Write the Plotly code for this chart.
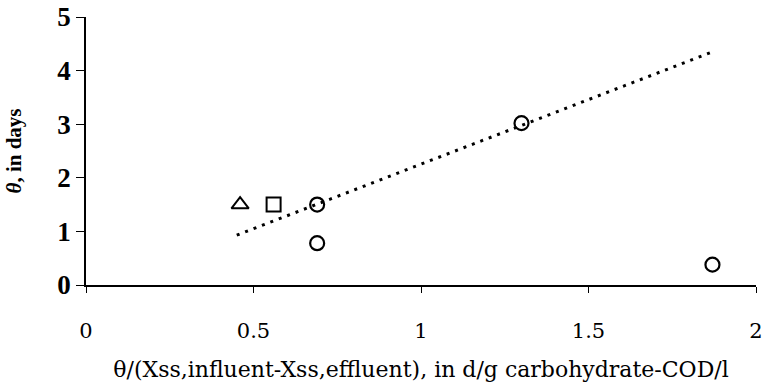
import plotly.graph_objects as go

# data
circle_x = [0.69, 0.69, 1.30, 1.87]
circle_y = [1.50, 0.78, 3.02, 0.38]
square_x = [0.56]
square_y = [1.50]
triangle_x = [0.46]
triangle_y = [1.50]
trend_x = [0.45, 1.87]
trend_y = [0.93, 4.35]

x_ticks = [0, 0.5, 1, 1.5, 2]
x_tick_labels = ["0", "0.5", "1", "1.5", "2"]
y_ticks = [0, 1, 2, 3, 4, 5]

SERIF = "DejaVu Serif"
LSERIF = "Liberation Serif"

fig = go.Figure()
fig.add_trace(go.Scatter(x=trend_x, y=trend_y, mode="lines",
                         line=dict(color="black", width=3, dash="3px,6px"),
                         showlegend=False, hoverinfo="skip"))
fig.add_trace(go.Scatter(x=circle_x, y=circle_y, mode="markers",
                         marker=dict(symbol="circle-open", size=14, color="black",
                                     line=dict(width=2.2, color="black")),
                         showlegend=False))
fig.add_trace(go.Scatter(x=square_x, y=square_y, mode="markers",
                         marker=dict(symbol="square-open", size=14, color="black",
                                     line=dict(width=2, color="black")),
                         showlegend=False))
fig.add_trace(go.Scatter(x=triangle_x, y=triangle_y, mode="markers",
                         marker=dict(symbol="triangle-up-open", size=15, color="black",
                                     line=dict(width=2, color="black")),
                         showlegend=False))

fig.update_layout(
    width=766, height=390,
    margin=dict(l=86, r=10, t=17, b=105),
    paper_bgcolor="white", plot_bgcolor="white",
    font=dict(family=SERIF, color="black", size=20),
    xaxis=dict(range=[0, 2], tickvals=x_ticks, ticktext=x_tick_labels,
               automargin=False,
               showgrid=False, zeroline=False, showline=True, linecolor="black",
               linewidth=1.5, ticks="outside", ticklen=6, tickcolor="black",
               ticklabelstandoff=20, ticklabeloverflow="allow",
               tickfont=dict(family=SERIF, size=21, color="black"),
               title=dict(text="θ/(Xss,influent-Xss,effluent), in d/g carbohydrate-COD/l",
                          font=dict(family=SERIF, size=22, color="black"), standoff=20)),
    yaxis=dict(range=[0, 5], tickvals=y_ticks,
               automargin=False,
               showgrid=False, zeroline=False, showline=True, linecolor="black",
               linewidth=1.5, ticks="outside", ticklen=8, tickcolor="black",
               ticklabelstandoff=0, ticklabeloverflow="allow",
               tickfont=dict(family=LSERIF, size=27, color="black", weight="bold"),
               title=dict(text="<i>θ</i>, in days",
                          font=dict(family=LSERIF, size=21, color="black", weight="bold"),
                          standoff=30)),
)

fig.write_html("out.html")
